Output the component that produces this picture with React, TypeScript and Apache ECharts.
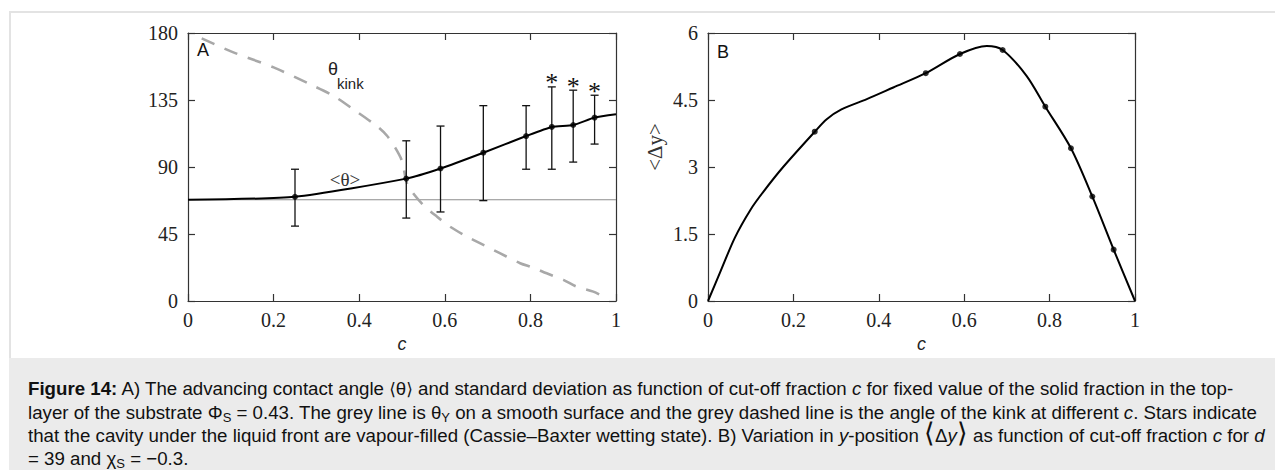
import React, { useEffect, useRef } from "react";
import * as echarts from "echarts";

// ---------- data ----------
const cTickInterval = 0.2;
const thetaMax = 180;
const thetaInterval = 45;
const dyMax = 6;
const dyInterval = 1.5;

// Panel A
const thetaY = 68; // grey line, smooth-surface Young angle
const meanLineC = [0, 0.25, 0.51, 0.59, 0.69, 0.79, 0.85, 0.9, 0.95, 1];
const meanLineTheta = [68, 70, 82.2, 89, 99.6, 110.8, 116.9, 118.2, 123.2, 125.4];
const pointC = [0.25, 0.51, 0.59, 0.69, 0.79, 0.85, 0.9, 0.95];
const pointTheta = [70, 82.2, 89, 99.6, 110.8, 116.9, 118.2, 123.2];
const errLow = [50.3, 55.7, 59.8, 67.4, 88.5, 88.5, 93.3, 105.4];
const errHigh = [88.5, 107.6, 117.5, 131.2, 131.2, 143.8, 141.6, 138.2];
const cassie = [0, 0, 0, 0, 0, 1, 1, 1];
const kinkC = [0.032, 0.106, 0.2, 0.285, 0.34, 0.386, 0.441, 0.465, 0.484, 0.5, 0.511, 0.523, 0.549, 0.582, 0.612, 0.651, 0.682, 0.713, 0.744, 0.776, 0.807, 0.838, 0.877, 0.908, 0.947, 0.978];
const kinkTheta = [176.4, 167, 156.9, 145.6, 137.7, 128.8, 117.5, 111, 103, 94, 79.5, 73.5, 64.7, 56.6, 50, 43.4, 38.9, 34.4, 29.9, 25.4, 22.3, 18.6, 14.2, 9.6, 6.3, 1.8];

// Panel B
const fitC = [0, 0.03, 0.063, 0.1, 0.13, 0.176, 0.25, 0.278, 0.3125, 0.372, 0.434, 0.51, 0.59, 0.653, 0.69, 0.746, 0.79, 0.85, 0.9, 0.95, 1];
const fitDy = [0, 0.68, 1.42, 2.05, 2.45, 3.0, 3.79, 4.07, 4.29, 4.52, 4.78, 5.1, 5.53, 5.71, 5.62, 5.04, 4.35, 3.42, 2.34, 1.15, 0];
const dyPointC = [0.25, 0.51, 0.59, 0.69, 0.79, 0.85, 0.9, 0.95];
const dyPointVal = [3.79, 5.1, 5.53, 5.62, 4.35, 3.42, 2.34, 1.15];

// ---------- styling ----------
const serif = "'Liberation Serif', 'Times New Roman', serif";
const sans = "'Liberation Sans', Arial, sans-serif";
const axisColor = "#333";
const labelColor = "#222";

const zip = (a: number[], b: number[]) => a.map((v, i) => [v, b[i]]);

function xAxesFor(grid: number) {
  const common = {
    type: "value" as const,
    gridIndex: grid,
    min: 0,
    max: 1,
    interval: cTickInterval,
    axisLine: { show: true, onZero: false, lineStyle: { color: axisColor, width: 1.2 } },
    axisTick: { show: true, inside: true, length: 7, lineStyle: { color: axisColor, width: 1.2 } },
    splitLine: { show: false },
  };
  return [
    {
      ...common,
      position: "bottom",
      axisLabel: { color: labelColor, fontFamily: serif, fontSize: 20, margin: 9 },
      name: "c",
      nameLocation: "middle",
      nameGap: 34,
      nameTextStyle: { color: "#222", fontFamily: sans, fontStyle: "italic", fontSize: 18 },
    },
    { ...common, position: "top", axisLabel: { show: false } },
  ];
}

function yAxesFor(grid: number, max: number, interval: number) {
  const common = {
    type: "value" as const,
    gridIndex: grid,
    min: 0,
    max,
    interval,
    axisLine: { show: true, onZero: false, lineStyle: { color: axisColor, width: 1.2 } },
    axisTick: { show: true, inside: true, length: 7, lineStyle: { color: axisColor, width: 1.2 } },
    splitLine: { show: false },
  };
  return [
    {
      ...common,
      position: "left",
      axisLabel: { color: labelColor, fontFamily: serif, fontSize: 20, margin: 10 },
    },
    { ...common, position: "right", axisLabel: { show: false } },
  ];
}

export default function App() {
  const ref = useRef<HTMLDivElement>(null);

  useEffect(() => {
    if (!ref.current) return;
    const chart = echarts.init(ref.current, undefined, { renderer: "svg" });

    const errData = pointC.map((c, i) => [c, errLow[i], errHigh[i], cassie[i]]);

    const option: any = {
      animation: false,
      backgroundColor: "transparent",
      grid: [
        { left: 188, top: 33, width: 428, height: 268 },
        { left: 708, top: 33, width: 427, height: 268 },
      ],
      xAxis: [...xAxesFor(0), ...xAxesFor(1)],
      yAxis: [...yAxesFor(0, thetaMax, thetaInterval), ...yAxesFor(1, dyMax, dyInterval)],
      series: [
        {
          type: "line",
          xAxisIndex: 0,
          yAxisIndex: 0,
          data: [[0, thetaY], [1, thetaY]],
          symbol: "none",
          lineStyle: { color: "#8c8c8c", width: 1 },
          z: 1,
        },
        {
          type: "line",
          xAxisIndex: 0,
          yAxisIndex: 0,
          data: zip(kinkC, kinkTheta),
          symbol: "none",
          smooth: 0.3,
          lineStyle: { color: "#a8a8a8", width: 2.6, type: [14, 11] },
          z: 2,
        },
        {
          type: "line",
          xAxisIndex: 0,
          yAxisIndex: 0,
          data: zip(meanLineC, meanLineTheta),
          symbol: "none",
          smooth: 0.2,
          lineStyle: { color: "#000", width: 2 },
          z: 3,
        },
        {
          type: "custom",
          xAxisIndex: 0,
          yAxisIndex: 0,
          data: errData,
          encode: { x: 0, y: [1, 2] },
          z: 4,
          renderItem: (params: any, api: any) => {
            const c = api.value(0);
            const lo = api.coord([c, api.value(1)]);
            const hi = api.coord([c, api.value(2)]);
            const w = 4;
            const st = { stroke: "#111", lineWidth: 1.3 };
            const children: any[] = [
              { type: "line", shape: { x1: lo[0], y1: lo[1], x2: hi[0], y2: hi[1] }, style: st },
              { type: "line", shape: { x1: hi[0] - w, y1: hi[1], x2: hi[0] + w, y2: hi[1] }, style: st },
              { type: "line", shape: { x1: lo[0] - w, y1: lo[1], x2: lo[0] + w, y2: lo[1] }, style: st },
            ];
            if (api.value(3)) {
              children.push({
                type: "text",
                x: hi[0],
                y: hi[1] + 9,
                style: {
                  text: "*",
                  fontFamily: serif,
                  fontSize: 26,
                  fill: "#111",
                  align: "center",
                  verticalAlign: "bottom",
                },
              });
            }
            return { type: "group", children };
          },
        },
        {
          type: "scatter",
          xAxisIndex: 0,
          yAxisIndex: 0,
          data: zip(pointC, pointTheta),
          symbol: "circle",
          symbolSize: 6,
          itemStyle: { color: "#000" },
          z: 5,
        },
        {
          type: "line",
          xAxisIndex: 2,
          yAxisIndex: 2,
          data: zip(fitC, fitDy),
          symbol: "none",
          smooth: 0.3,
          lineStyle: { color: "#000", width: 2 },
          z: 3,
        },
        {
          type: "scatter",
          xAxisIndex: 2,
          yAxisIndex: 2,
          data: zip(dyPointC, dyPointVal),
          symbol: "circle",
          symbolSize: 6,
          itemStyle: { color: "#000" },
          z: 5,
        },
      ],
      graphic: [
        {
          type: "text",
          left: 197,
          top: 41,
          style: { text: "A", fontFamily: sans, fontSize: 18, fill: "#111" },
        },
        {
          type: "text",
          left: 717,
          top: 43,
          style: { text: "B", fontFamily: sans, fontSize: 18, fill: "#111" },
        },
        {
          type: "text",
          x: 328,
          y: 78,
          style: { text: "θ", fontFamily: sans, fontSize: 18, fill: "#222", verticalAlign: "bottom" },
        },
        {
          type: "text",
          x: 337,
          y: 91,
          style: { text: "kink", fontFamily: sans, fontSize: 15, fill: "#222", verticalAlign: "bottom" },
        },
        {
          type: "text",
          x: 345,
          y: 179,
          style: { text: "<θ>", fontFamily: serif, fontSize: 19, fill: "#333", align: "center", verticalAlign: "middle" },
        },
        {
          type: "text",
          x: 655,
          y: 147,
          rotation: Math.PI / 2,
          style: { text: "<Δy>", fontFamily: serif, fontSize: 21, fill: "#333", align: "center", verticalAlign: "middle" },
        },
      ],
    };

    chart.setOption(option);
    return () => chart.dispose();
  }, []);

  const sub: React.CSSProperties = { fontSize: 13, verticalAlign: "-3px", lineHeight: 0 };
  const big: React.CSSProperties = { fontSize: 27, lineHeight: 0, fontFamily: "'DejaVu Sans', sans-serif", fontWeight: 200 };
  const br: React.CSSProperties = { fontFamily: "'DejaVu Sans', sans-serif", fontSize: 17 };

  return (
    <div
      style={{
        position: "fixed",
        left: 0,
        top: 0,
        width: 1275,
        height: 470,
        overflow: "hidden",
        background: "#fff",
      }}
    >
      <div
        style={{
          position: "absolute",
          left: 9,
          top: 11,
          width: 1300,
          height: 500,
          borderLeft: "2px solid #e3e3e3",
          borderTop: "2px solid #e3e3e3",
          boxSizing: "border-box",
        }}
      />
      <div
        style={{
          position: "absolute",
          left: 9,
          top: 358,
          width: 1266,
          height: 112,
          background: "#ebebeb",
        }}
      />
      <div ref={ref} style={{ position: "absolute", left: 0, top: 0, width: 1275, height: 358 }} />
      <div
        style={{
          position: "absolute",
          left: 28,
          top: 377,
          width: 1245,
          fontFamily: sans,
          fontSize: 18.7,
          lineHeight: "23px",
          color: "#111",
          whiteSpace: "nowrap",
        }}
      >
        <div>
          <b>Figure 14:</b> A) The advancing contact angle <span style={br}>⟨</span>θ<span style={br}>⟩</span> and
          standard deviation as function of cut-off fraction <i>c</i> for fixed value of the solid fraction in the top-
        </div>
        <div>
          layer of the substrate Φ<span style={sub}>S</span> = 0.43. The grey line is θ<span style={sub}>Y</span> on a
          smooth surface and the grey dashed line is the angle of the kink at different <i>c</i>. Stars indicate
        </div>
        <div>
          that the cavity under the liquid front are vapour-filled (Cassie–Baxter wetting state). B) Variation in{" "}
          <i>y</i>-position <span style={big}>⟨</span>Δ<i>y</i>
          <span style={big}>⟩</span> as function of cut-off fraction <i>c</i> for <i>d</i>
        </div>
        <div>
          = 39 and χ<span style={sub}>S</span> = −0.3.
        </div>
      </div>
    </div>
  );
}
